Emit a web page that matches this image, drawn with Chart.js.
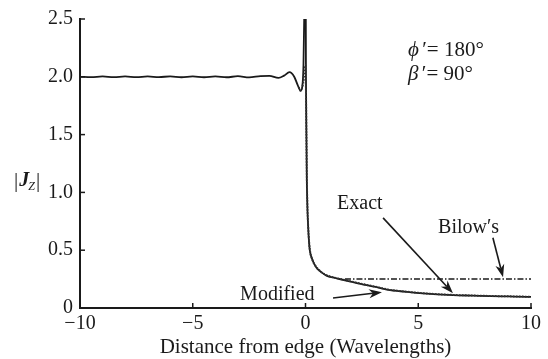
<!DOCTYPE html>
<html lang="en">
<head>
<meta charset="UTF-8">
<title>Edge current</title>
<script src="https://cdn.jsdelivr.net/npm/chart.js"></script>
<style>
  html, body { margin: 0; padding: 0; background: #fff; }
  #wrap { width: 548px; height: 359px; }
</style>
</head>
<body>
<div id="wrap"><canvas id="jz"></canvas></div>
<script>
// values
const exactX = [-10, -9.5, -9, -8.5, -8, -7.5, -7, -6.5, -6, -5.5, -5, -4.5, -4, -3.5, -3, -2.5, -2, -1.6, -1.2, -0.95,
  -0.71, -0.5, -0.35, -0.22, -0.14, -0.09, -0.05, -0.02, 0, 0.02, 0.04, 0.06, 0.08, 0.1, 0.14, 0.19, 0.3, 0.48, 0.7, 0.93,
  1.3, 1.75, 2.2, 2.71, 3.2, 3.75, 4.2, 5.2, 6.54, 7.4, 8.2, 9.0, 9.82, 10];
const exactY = [2.0, 1.997, 2.003, 1.997, 2.003, 1.997, 2.003, 1.997, 2.004, 1.996, 2.004, 1.996, 2.004, 1.996, 2.005, 1.995, 2.006, 2.008, 1.99, 2.01,
  2.04, 2.0, 1.93, 1.88, 1.92, 2.1, 2.6, 3.2, 3.4, 2.0, 1.5, 1.1, 0.9, 0.78, 0.62, 0.5, 0.42, 0.35, 0.31, 0.28,
  0.26, 0.24, 0.22, 0.197, 0.178, 0.154, 0.145, 0.126, 0.111, 0.107, 0.103, 0.1, 0.097, 0.096];

const modX = [-0.3, -0.22, -0.1, 0, 0.02, 0.04, 0.06, 0.08, 0.1, 0.14, 0.19, 0.3, 0.48, 0.7, 0.93,
  1.3, 1.75, 2.2, 2.71, 3.2, 3.75, 4.2, 5.2, 6.54, 7.4, 8.2, 9.0, 9.82, 10];
const modY = [1.91, 1.88, 1.95, 2.1, 1.9, 1.5, 1.12, 0.92, 0.79, 0.63, 0.51, 0.42, 0.355, 0.31, 0.285,
  0.262, 0.242, 0.222, 0.2, 0.18, 0.157, 0.147, 0.128, 0.113, 0.108, 0.104, 0.101, 0.098, 0.097];

const bilowX = [1.75, 10];
const bilowY = [0.25, 0.25];

const xTicks = [-10, -5, 0, 5, 10];
const yTicks = [0, 0.5, 1.0, 1.5, 2.0, 2.5];
const yTickLabels = ['0', '0.5', '1.0', '1.5', '2.0', '2.5'];

const toPts = (xs, ys) => xs.map((x, i) => ({ x: x, y: ys[i] }));

const INK = '#1a1a1a';
const SERIF = '"Liberation Serif", "Times New Roman", serif';
Chart.defaults.font.family = SERIF;
Chart.defaults.font.size = 20;
Chart.defaults.color = INK;

// labels and arrows placed in data units
const notes = [
  { text: 'Exact', x: 1.40, y: 0.856 },
  { text: 'Bilow\u2032s', x: 5.88, y: 0.651 },
  { text: 'Modified', x: -2.90, y: 0.068 }
];
const arrows = [
  { x0: 3.44, y0: 0.78, x1: 6.54, y1: 0.128 },
  { x0: 8.31, y0: 0.608, x1: 8.76, y1: 0.265 },
  { x0: 1.22, y0: 0.086, x1: 3.39, y1: 0.137 }
];

function arrow(ctx, x0, y0, x1, y1) {
  const a = Math.atan2(y1 - y0, x1 - x0);
  const L = 13, W = 4.5;
  ctx.beginPath();
  ctx.moveTo(x0, y0);
  ctx.lineTo(x1 - L * 0.7 * Math.cos(a), y1 - L * 0.7 * Math.sin(a));
  ctx.stroke();
  ctx.beginPath();
  ctx.moveTo(x1, y1);
  ctx.lineTo(x1 - L * Math.cos(a) + W * Math.sin(a), y1 - L * Math.sin(a) - W * Math.cos(a));
  ctx.lineTo(x1 - L * 0.7 * Math.cos(a), y1 - L * 0.7 * Math.sin(a));
  ctx.lineTo(x1 - L * Math.cos(a) - W * Math.sin(a), y1 - L * Math.sin(a) + W * Math.cos(a));
  ctx.closePath();
  ctx.fill();
}

const decor = {
  id: 'decor',
  afterDraw(chart) {
    const ctx = chart.ctx;
    const xs = chart.scales.x, ys = chart.scales.y;
    const area = chart.chartArea;
    ctx.save();
    ctx.strokeStyle = INK;
    ctx.fillStyle = INK;

    // inward tick marks
    ctx.lineWidth = 1.5;
    xTicks.forEach(v => {
      const px = xs.getPixelForValue(v);
      ctx.beginPath(); ctx.moveTo(px, area.bottom); ctx.lineTo(px, area.bottom - 5); ctx.stroke();
    });
    yTicks.forEach(v => {
      const py = ys.getPixelForValue(v);
      ctx.beginPath(); ctx.moveTo(area.left, py); ctx.lineTo(area.left + 5, py); ctx.stroke();
    });

    // axis titles
    ctx.font = '21px ' + SERIF;
    ctx.textAlign = 'center';
    ctx.textBaseline = 'alphabetic';
    ctx.fillText('Distance from edge (Wavelengths)', (area.left + area.right) / 2, 353);

    ctx.textAlign = 'left';
    let cx = 14;
    ctx.font = '21px ' + SERIF;
    ctx.fillText('|', cx, 187); cx += ctx.measureText('|').width + 1;
    ctx.font = 'italic bold 20px ' + SERIF;
    ctx.fillText('J', cx, 186); cx += ctx.measureText('J').width - 1;
    ctx.font = 'italic 12px ' + SERIF;
    ctx.fillText('Z', cx, 190); cx += ctx.measureText('Z').width + 1;
    ctx.font = '21px ' + SERIF;
    ctx.fillText('|', cx, 187);

    // parameter text
    const px0 = xs.getPixelForValue(4.55);
    [['\u03d5', ' \u2032= 180\u00b0', 2.183], ['\u03b2', ' \u2032= 90\u00b0', 1.969]].forEach(r => {
      const py = ys.getPixelForValue(r[2]);
      ctx.font = 'italic 21px ' + SERIF;
      ctx.fillText(r[0], px0, py);
      const w = ctx.measureText(r[0]).width;
      ctx.font = '21px ' + SERIF;
      ctx.fillText(r[1], px0 + w - 2, py);
    });

    // curve labels
    ctx.font = '20px ' + SERIF;
    notes.forEach(n => ctx.fillText(n.text, xs.getPixelForValue(n.x), ys.getPixelForValue(n.y)));

    ctx.lineWidth = 1.6;
    arrows.forEach(a => arrow(ctx, xs.getPixelForValue(a.x0), ys.getPixelForValue(a.y0),
      xs.getPixelForValue(a.x1), ys.getPixelForValue(a.y1)));
    ctx.restore();
  }
};

new Chart(document.getElementById('jz'), {
  type: 'line',
  data: {
    datasets: [
      {
        label: 'Bilow\u2032s',
        data: toPts(bilowX, bilowY),
        borderColor: INK,
        borderWidth: 1.5,
        borderDash: [6, 2, 1.5, 2],
        pointRadius: 0,
        tension: 0
      },
      {
        label: 'Modified',
        data: toPts(modX, modY),
        borderColor: '#333',
        borderWidth: 2,
        borderDash: [1.5, 1.5],
        pointRadius: 0,
        cubicInterpolationMode: 'monotone'
      },
      {
        label: 'Exact',
        data: toPts(exactX, exactY),
        borderColor: INK,
        borderWidth: 1.8,
        pointRadius: 0,
        cubicInterpolationMode: 'monotone'
      }
    ]
  },
  options: {
    responsive: true,
    maintainAspectRatio: false,
    animation: false,
    layout: { padding: { top: 16, right: 17, left: 0, bottom: 0 } },
    plugins: { legend: { display: false }, tooltip: { enabled: false } },
    scales: {
      x: {
        type: 'linear',
        min: -10, max: 10,
        grid: { display: false, drawTicks: false },
        border: { display: true, color: INK, width: 2 },
        afterBuildTicks: s => { s.ticks = xTicks.map(v => ({ value: v })); },
        afterFit: s => { s.height = 51; },
        ticks: {
          padding: 4,
          color: INK,
          font: { family: SERIF, size: 20 },
          callback: v => String(v).replace('-', '\u2212')
        }
      },
      y: {
        type: 'linear',
        min: 0, max: 2.5,
        grid: { display: false, drawTicks: false },
        border: { display: true, color: INK, width: 2 },
        afterBuildTicks: s => { s.ticks = yTicks.map(v => ({ value: v })); },
        afterFit: s => { s.width = 80; },
        ticks: {
          padding: 7,
          color: INK,
          font: { family: SERIF, size: 20 },
          callback: v => yTickLabels[yTicks.indexOf(v)]
        }
      }
    }
  },
  plugins: [decor]
});
</script>
</body>
</html>
